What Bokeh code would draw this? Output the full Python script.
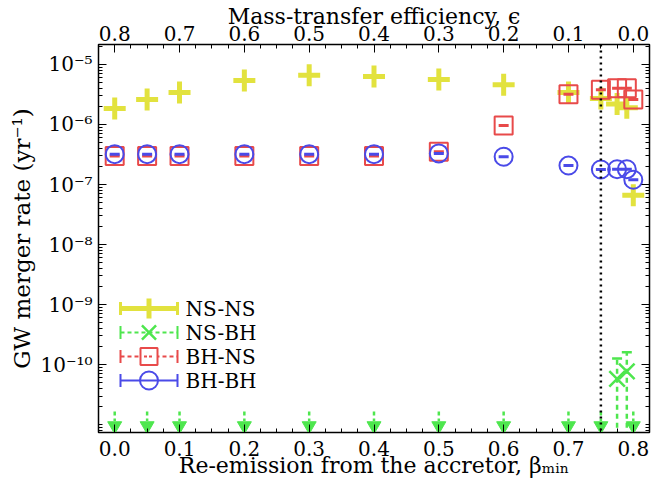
import math
from bokeh.plotting import figure
from bokeh.models import (Range1d, LinearAxis, LogAxis, SingleIntervalTicker, FixedTicker, LinearScale,
                          CustomJSTickFormatter, Span)
from bokeh.core.properties import value
from bokeh.embed import file_html
from bokeh.resources import INLINE

# ---------------- data ----------------
beta = [0.0, 0.05, 0.1, 0.2, 0.3, 0.4, 0.5, 0.6, 0.7, 0.75, 0.775, 0.79, 0.8]
nsns = [1.85e-6, 2.6e-6, 3.4e-6, 5.4e-6, 6.6e-6, 6.3e-6, 5.6e-6, 4.6e-6, 3.4e-6, 2.7e-6, 2.2e-6, 1.9e-6, 6.6e-8]
bhns = [3.0e-7, 3.0e-7, 3.0e-7, 3.0e-7, 3.0e-7, 3.0e-7, 3.5e-7, 9.6e-7, 3.2e-6, 3.8e-6, 4.0e-6, 4.0e-6, 2.6e-6]
bhbh = [3.2e-7, 3.2e-7, 3.2e-7, 3.2e-7, 3.2e-7, 3.2e-7, 3.3e-7, 2.9e-7, 2.07e-7, 1.78e-7, 1.8e-7, 1.8e-7, 1.2e-7]
nsbh_beta = [0.775, 0.79]
nsbh = [5.8e-11, 7.7e-11]
nsbh_hi = [1.26e-10, 1.6e-10]
nsbh_lo = [1e-13, 1e-13]
ul_beta = [0.0, 0.05, 0.1, 0.2, 0.3, 0.4, 0.5, 0.6, 0.7, 0.75, 0.8]
nsbh_ul = [1.65e-11] * 11
beta_switch = 0.75
y_major = [1e-10, 1e-9, 1e-8, 1e-7, 1e-6, 1e-5]
leg_labels = ["NS-NS", "NS-BH", "BH-NS", "BH-BH"]

YEL = "#e2e23e"
GRN = "#4ee64e"
RED = "#e84a4a"
BLU = "#4a4ae8"
FONT = "DejaVu Serif"

W, H = 672, 487
BL, BR, BT, BB = 98, 23, 44, 55
FW, FH = W - BL - BR, H - BT - BB

p = figure(width=W, height=H, x_range=Range1d(-0.025, 0.825),
           y_range=Range1d(7.4e-12, 2.15e-5), y_axis_type="log",
           output_backend="svg", toolbar_location=None,
           x_axis_location=None, y_axis_location=None)
p.min_border_left = BL
p.min_border_right = BR
p.min_border_top = BT
p.min_border_bottom = BB
p.xgrid.visible = False
p.ygrid.visible = False
p.outline_line_color = "black"
p.outline_line_width = 1.5
p.background_fill_color = "white"
p.border_fill_color = "white"

# pixel-like frame coordinates for the legend box
p.extra_x_ranges = {"leg": Range1d(0, FW)}
p.extra_y_ranges = {"leg": Range1d(0, FH)}
p.extra_x_scales = {"leg": LinearScale()}
p.extra_y_scales = {"leg": LinearScale()}

def style(ax, tick_size="20px", label_size="22px"):
    ax.major_tick_in = 8
    ax.major_tick_out = 0
    ax.minor_tick_in = 4
    ax.minor_tick_out = 0
    ax.major_tick_line_color = "black"
    ax.minor_tick_line_color = "black"
    ax.axis_line_color = "black"
    ax.major_label_text_font = FONT
    ax.major_label_text_font_size = tick_size
    ax.major_label_text_color = "black"
    ax.axis_label_text_font = FONT
    ax.axis_label_text_font_size = label_size
    ax.axis_label_text_font_style = "normal"
    ax.axis_label_text_color = "black"

bottom = LinearAxis(ticker=SingleIntervalTicker(interval=0.1, num_minor_ticks=4),
                    axis_label="Re-emission from the accretor, βₘᵢₙ",
                    formatter=CustomJSTickFormatter(code="return Math.abs(tick) < 1e-9 ? '0.0' : tick.toFixed(1);"))
style(bottom)
bottom.major_label_standoff = 8
bottom.axis_label_standoff = -6
p.add_layout(bottom, "below")

top = LinearAxis(ticker=SingleIntervalTicker(interval=0.1, num_minor_ticks=4),
                 axis_label="Mass-transfer efficiency, ϵ",
                 formatter=CustomJSTickFormatter(code="let v = 0.8 - tick; if (Math.abs(v) < 1e-9) v = 0; return v.toFixed(1);"))
style(top)
top.major_label_standoff = 4
top.axis_label_standoff = -6
p.add_layout(top, "above")

minor = [k * 10.0 ** e for e in range(-12, -4) for k in range(2, 10)] + [1e-11, 1e-12]
sup_js = """
const sup = {'-':'⁻','0':'⁰','1':'¹','2':'²','3':'³','4':'⁴','5':'⁵','6':'⁶','7':'⁷','8':'⁸','9':'⁹'};
const e = Math.round(Math.log10(tick));
return '10' + String(e).split('').map(c => sup[c]).join('');
"""
left = LogAxis(ticker=FixedTicker(ticks=y_major, minor_ticks=minor),
               formatter=CustomJSTickFormatter(code=sup_js),
               axis_label="GW merger rate (yr⁻¹)")
style(left, label_size="23px")
left.major_label_standoff = 6
left.axis_label_standoff = 2
p.add_layout(left, "left")

right = LogAxis(ticker=FixedTicker(ticks=y_major, minor_ticks=minor),
                formatter=CustomJSTickFormatter(code="return '';"))
style(right)
p.add_layout(right, "right")

# switch line
p.add_layout(Span(location=beta_switch, dimension="height", line_color="black",
                  line_dash="2 4", line_width=2.5))

# NS-NS
p.scatter(beta, nsns, marker="cross", size=22, line_width=5, line_color=YEL)

# NS-BH upper limits
ul_stem_end = [v * 0.70 for v in nsbh_ul]
ul_head = [v * 0.58 for v in nsbh_ul]
p.segment(x0=ul_beta, y0=nsbh_ul, x1=ul_beta, y1=ul_stem_end, line_color=GRN,
          line_width=2.5, line_dash="4 3")
p.scatter(ul_beta, ul_head, marker="inverted_triangle", size=14, fill_color=GRN, line_color=GRN)

# NS-BH detections
p.segment(x0=nsbh_beta, y0=nsbh_lo, x1=nsbh_beta, y1=nsbh_hi, line_color=GRN,
          line_width=2.5, line_dash="5 4")
p.scatter(nsbh_beta, nsbh_hi, marker="dash", size=10, line_color=GRN, line_width=2.5)
p.scatter(nsbh_beta, nsbh, marker="x", size=22, line_color=GRN, line_width=2.5)

# BH-NS
p.scatter(beta, bhns, marker="square", size=18, line_color=RED, fill_color=None, line_width=2)
p.scatter(beta, bhns, marker="dash", size=10, line_color=RED, line_width=3)

# BH-BH
p.scatter(beta, bhbh, marker="circle", size=18, line_color=BLU, fill_color=None, line_width=2)
p.scatter(beta, bhbh, marker="dash", size=10, line_color=BLU, line_width=3)

# ---------------- legend (drawn in frame-pixel coordinates) ----------------
LX0, LX1, LTX = 22, 79, 87
LXC = (LX0 + LX1) / 2
rows = [124 - 24 * i for i in range(4)]
kw = dict(x_range_name="leg", y_range_name="leg")
colors = [YEL, GRN, RED, BLU]
line_w = [5, 2, 2, 2]
line_dash = ["solid", "4 3", "4 3", "solid"]
cap_w = [3, 2, 2, 2]
for r, c, lw, ld, cw in zip(rows, colors, line_w, line_dash, cap_w):
    p.segment(x0=[LX0], y0=[r], x1=[LX1], y1=[r], line_color=c, line_width=lw, line_dash=ld, **kw)
    p.scatter(x=[LX0, LX1], y=[r, r], marker="dash", angle=math.pi / 2, size=13,
              line_color=c, line_width=cw, **kw)
p.scatter(x=[LXC], y=[rows[0]], marker="cross", size=20, line_width=5, line_color=YEL, **kw)
p.scatter(x=[LXC], y=[rows[1]], marker="x", size=20, line_width=2.5, line_color=GRN, **kw)
p.scatter(x=[LXC], y=[rows[2]], marker="square", size=17, line_width=2, line_color=RED,
          fill_color="white", **kw)
p.segment(x0=[LXC - 5], y0=[rows[2]], x1=[LXC + 5], y1=[rows[2]], line_color=RED, line_width=2,
          line_dash="3 2", **kw)
p.scatter(x=[LXC], y=[rows[3]], marker="circle", size=18, line_width=2, line_color=BLU,
          fill_color=None, **kw)
p.text(x=[LTX] * 4, y=rows, text=leg_labels, text_font=value(FONT), text_font_size="20px",
       text_baseline="middle", text_align="left", text_color="black", **kw)

open("out.html", "w").write(file_html(p, INLINE))
